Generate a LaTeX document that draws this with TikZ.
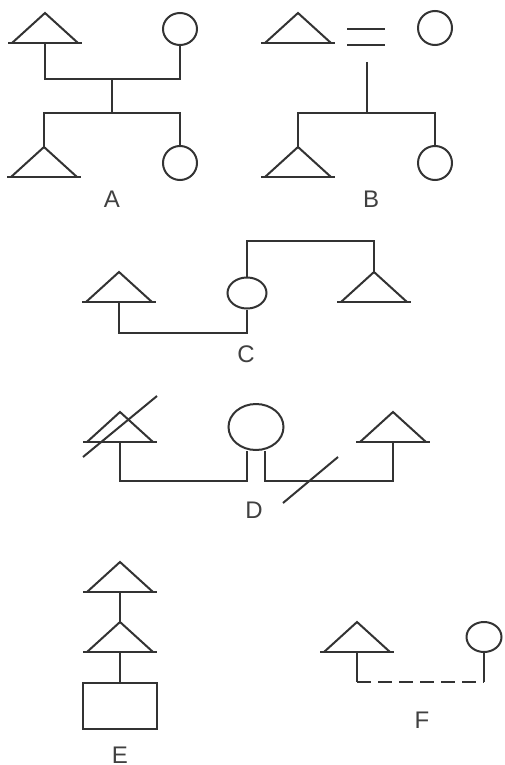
\documentclass[tikz,border=0pt]{standalone}
\usepackage{fontspec}
\setmainfont{Liberation Sans}
\usetikzlibrary{shapes.geometric}
\tikzset{
  male/.pic={
    \draw (-33,30) -- (0,0) -- (33,30);
    \draw (-37,30) -- (37,30);
    \coordinate (-top) at (0,0);
    \coordinate (-base) at (0,30);
  },
  female/.style={draw, ellipse, inner sep=0pt},
  lbl/.style={anchor=base, inner sep=0pt, font=\fontsize{24}{28}\selectfont, text=black!75}
}
\begin{document}
\begin{tikzpicture}[x=1pt,y=-1pt,line width=2pt,black!80]
\useasboundingbox (0,0) rectangle (505,765);

% A
\pic (a1) at (45,13) {male};
\node[female,minimum width=34,minimum height=32] (a2) at (180,29) {};
\pic (a3) at (44,147) {male};
\node[female,minimum width=34,minimum height=34] (a4) at (180,163) {};
\coordinate (aM) at (112,79);
\coordinate (aS) at (112,113);
\draw (a1-base) |- (aM) -| (a2.south);
\draw (aM) -- (aS);
\draw (a3-top) |- (aS) -| (a4.north);
\node[lbl] (la) at (112,207) {A};

% B
\pic (b1) at (298,13) {male};
\node[female,minimum width=34,minimum height=34] (b2) at (435,28) {};
\pic (b3) at (298,147) {male};
\node[female,minimum width=34,minimum height=34] (b4) at (435,163) {};
\coordinate (bM) at (367,62);
\coordinate (bS) at (367,113);
\draw (347,29) -- (385,29);
\draw (347,45) -- (385,45);
\draw (bM) -- (bS);
\draw (b3-top) |- (bS) -| (b4.north);
\node[lbl] (lb) at (371,207) {B};

% C
\pic (c1) at (119,272) {male};
\node[female,minimum width=39,minimum height=31] (c2) at (247,293) {};
\pic (c3) at (374,272) {male};
\draw (c1-base) -- ++(0,31) -| (c2.south);
\draw (c2.north) -- ++(0,-36) -| (c3-top);
\node[lbl] (lc) at (246,362) {C};

% D
\pic (d1) at (120,412) {male};
\node[female,minimum width=55,minimum height=46] (d2) at (256,427) {};
\pic (d3) at (393,412) {male};
\draw (d1-base) -- ++(0,39) -| ([xshift=-9]d2.south);
\draw (d3-base) -- ++(0,39) -| ([xshift=9]d2.south);
\draw (83,457) -- (157,396);
\draw (283,503) -- (338,457);
\node[lbl] (ld) at (254,518) {D};

% E
\pic (e1) at (120,562) {male};
\pic (e2) at (120,622) {male};
\node[draw,minimum width=74,minimum height=46,inner sep=0pt] (e3) at (120,706) {};
\draw (e1-base) -- (e2-top);
\draw (e2-base) -- (e3.north);
\node[lbl] (le) at (120,763) {E};

% F
\pic (f1) at (357,622) {male};
\node[female,minimum width=35,minimum height=30] (f2) at (484,637) {};
\coordinate (fL) at (357,682);
\coordinate (fR) at (484,682);
\draw (f1-base) -- (fL);
\draw[dash pattern=on 14pt off 7pt] (fL) -- (fR);
\draw (fR) -- (f2.south);
\node[lbl] (lf) at (422,728) {F};
\end{tikzpicture}
\end{document}
